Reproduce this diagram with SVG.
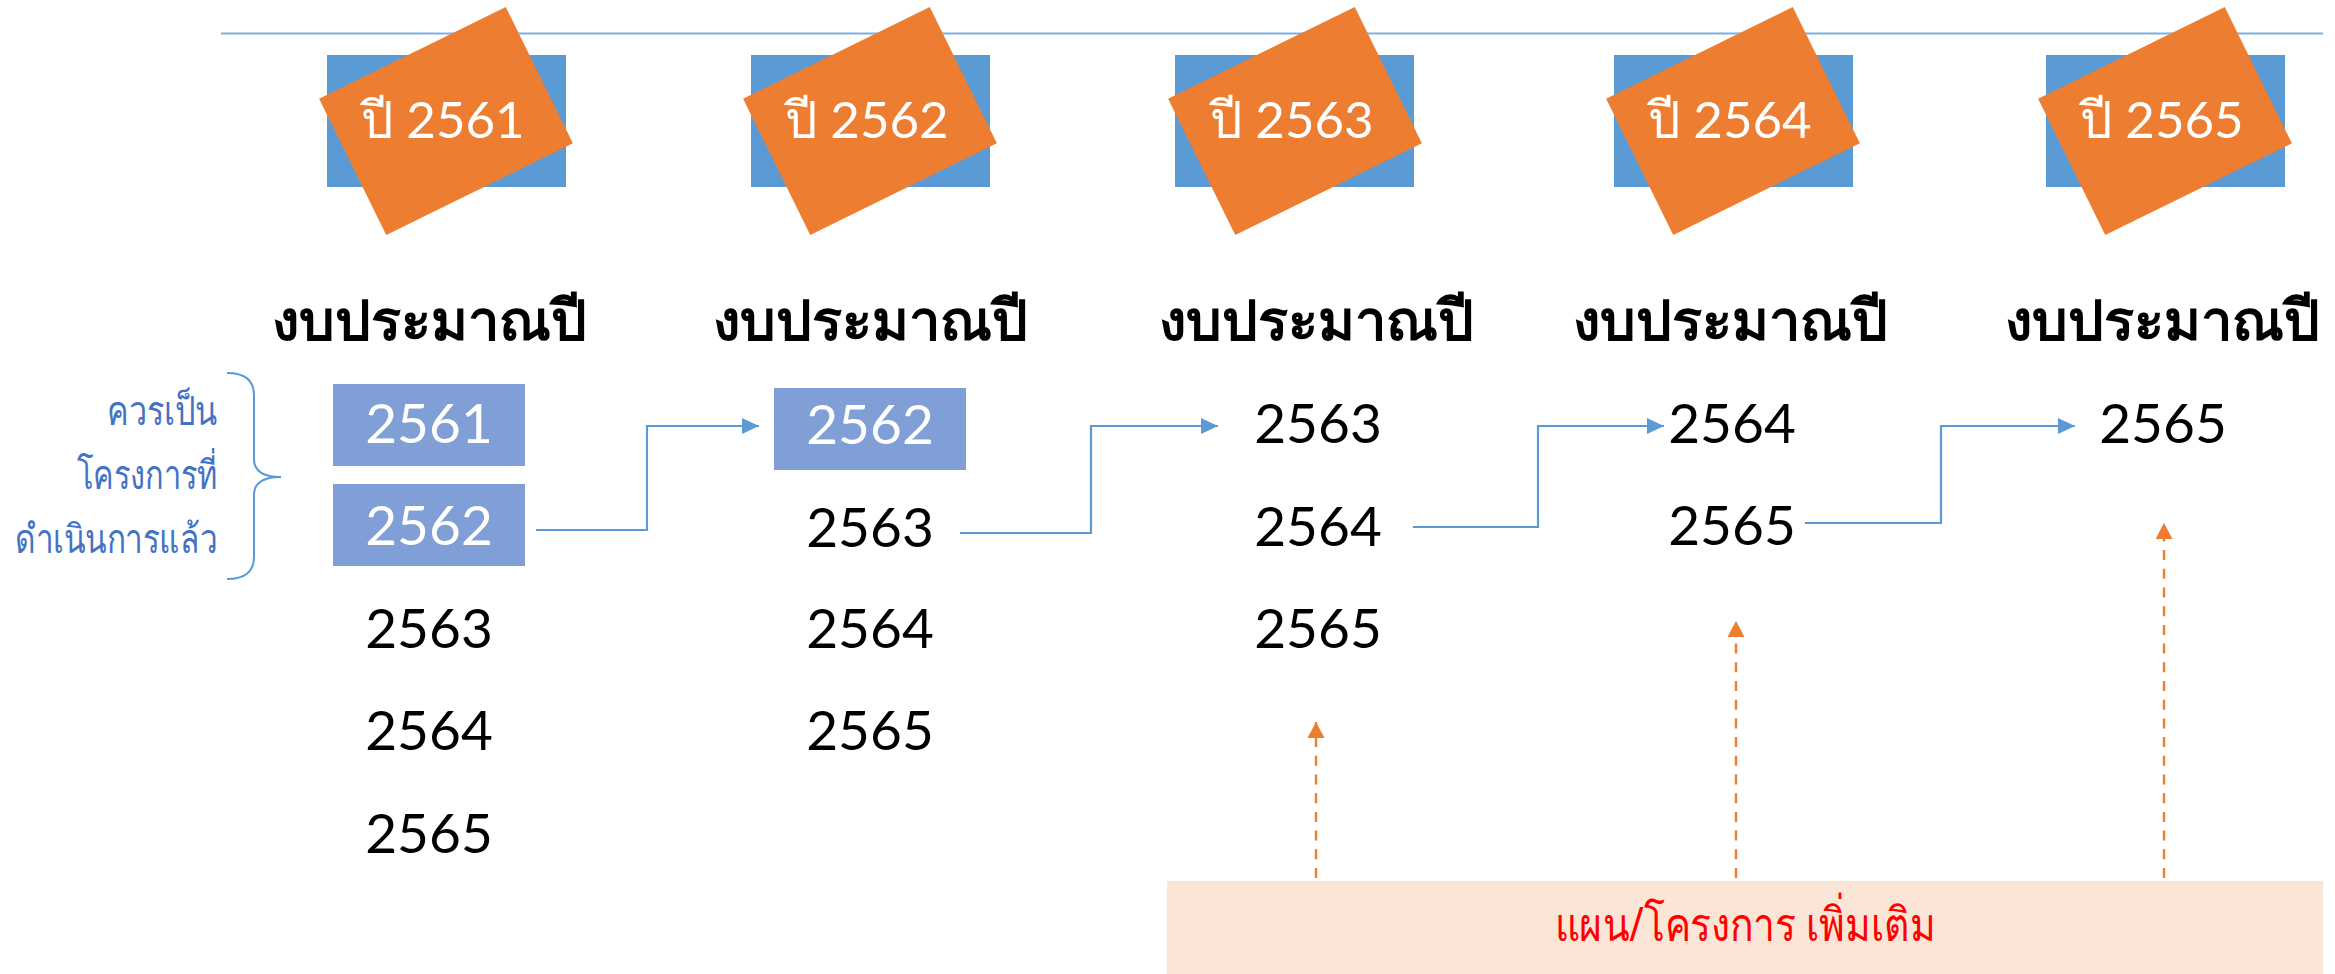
<svg xmlns="http://www.w3.org/2000/svg" width="2335" height="974" viewBox="0 0 2335 974">
  <defs>
    <style>
      .hdr{fill:#5B9BD5}
      .tag{fill:#ED7D31}
      .tagtxt{font-family:"Lato","Noto Sans",sans-serif;font-size:51px;fill:#FFFFFF;text-anchor:middle}
      .head{font-family:"Noto Sans","Lato",sans-serif;font-size:56px;font-weight:bold;fill:#000000;text-anchor:middle}
      .num{font-family:"Lato","Noto Sans",sans-serif;font-size:55px;fill:#000000;text-anchor:middle}
      .numw{font-family:"Lato","Noto Sans",sans-serif;font-size:55px;fill:#FFFFFF;text-anchor:middle}
      .done{fill:#7F9FD6}
      .note{font-family:"Noto Sans","Lato",sans-serif;font-size:40px;fill:#4472C4;text-anchor:end}
      .conn{fill:none;stroke:#5B9BD5;stroke-width:2.2}
      .dash{fill:none;stroke:#ED7D31;stroke-width:2.4;stroke-dasharray:10 8.7}
      .extra{font-family:"Noto Sans","Lato",sans-serif;font-size:47px;fill:#FF0000;text-anchor:middle}
    </style>
    <marker id="arrBlue" markerUnits="userSpaceOnUse" markerWidth="18" markerHeight="16" refX="17" refY="8" orient="auto">
      <path d="M0,0 L17,8 L0,16 Z" fill="#5B9BD5"/>
    </marker>
    <marker id="arrOrange" markerUnits="userSpaceOnUse" markerWidth="18" markerHeight="17" refX="16" refY="8.5" orient="auto">
      <path d="M0,0 L16,8.5 L0,17 Z" fill="#ED7D31"/>
    </marker>
  </defs>
  <rect width="2335" height="974" fill="#FFFFFF"/>

  <line x1="221" y1="33.5" x2="2323" y2="33.5" stroke="#7FAEE0" stroke-width="2"/>

  <g id="year-2561">
    <rect class="hdr" x="327" y="55" width="239" height="132"/>
    <rect class="tag" x="-104" y="-76" width="208" height="152" transform="translate(446,121) rotate(-26.2)"/>
    <text class="tagtxt" x="443" y="138">ปี 2561</text>
  </g>
  <g id="year-2562">
    <rect class="hdr" x="751" y="55" width="239" height="132"/>
    <rect class="tag" x="-104" y="-76" width="208" height="152" transform="translate(870,121) rotate(-26.2)"/>
    <text class="tagtxt" x="867" y="138">ปี 2562</text>
  </g>
  <g id="year-2563">
    <rect class="hdr" x="1175" y="55" width="239" height="132"/>
    <rect class="tag" x="-104" y="-76" width="208" height="152" transform="translate(1295,121) rotate(-26.2)"/>
    <text class="tagtxt" x="1292" y="138">ปี 2563</text>
  </g>
  <g id="year-2564">
    <rect class="hdr" x="1614" y="55" width="239" height="132"/>
    <rect class="tag" x="-104" y="-76" width="208" height="152" transform="translate(1733,121) rotate(-26.2)"/>
    <text class="tagtxt" x="1730" y="138">ปี 2564</text>
  </g>
  <g id="year-2565">
    <rect class="hdr" x="2046" y="55" width="239" height="132"/>
    <rect class="tag" x="-104" y="-76" width="208" height="152" transform="translate(2165,121) rotate(-26.2)"/>
    <text class="tagtxt" x="2162" y="138">ปี 2565</text>
  </g>

  <g id="budget-2561">
    <text class="head" x="429" y="340">งบประมาณปี</text>
    <rect class="done" x="333" y="384" width="192" height="82"/>
    <text class="numw" x="429" y="443">2561</text>
    <rect class="done" x="333" y="484" width="192" height="82"/>
    <text class="numw" x="429" y="545">2562</text>
    <text class="num" x="429" y="648">2563</text>
    <text class="num" x="429" y="750">2564</text>
    <text class="num" x="429" y="853">2565</text>
  </g>
  <g id="budget-2562">
    <text class="head" x="870" y="340">งบประมาณปี</text>
    <rect class="done" x="774" y="388" width="192" height="82"/>
    <text class="numw" x="870" y="444">2562</text>
    <text class="num" x="870" y="547">2563</text>
    <text class="num" x="870" y="648">2564</text>
    <text class="num" x="870" y="750">2565</text>
  </g>
  <g id="budget-2563">
    <text class="head" x="1316" y="340">งบประมาณปี</text>
    <text class="num" x="1318" y="443">2563</text>
    <text class="num" x="1318" y="546">2564</text>
    <text class="num" x="1318" y="648">2565</text>
  </g>
  <g id="budget-2564">
    <text class="head" x="1730" y="340">งบประมาณปี</text>
    <text class="num" x="1732" y="443">2564</text>
    <text class="num" x="1732" y="545">2565</text>
  </g>
  <g id="budget-2565">
    <text class="head" x="2162" y="340">งบประมาณปี</text>
    <text class="num" x="2163" y="443">2565</text>
  </g>

  <g id="note">
    <path d="M227,373 Q254,373 254,395 L254,459 Q254,477 281,477 Q254,477 254,495 L254,557 Q254,579 227,579" fill="none" stroke="#5B9BD5" stroke-width="2"/>
    <text class="note" x="217" y="425" textLength="110" lengthAdjust="spacingAndGlyphs">ควรเป็น</text>
    <text class="note" x="217" y="489" textLength="140" lengthAdjust="spacingAndGlyphs">โครงการที่</text>
    <text class="note" x="217" y="553" textLength="202" lengthAdjust="spacingAndGlyphs">ดำเนินการแล้ว</text>
  </g>

  <g id="extra-plans">
    <rect x="1167" y="881" width="1156" height="93" fill="#FBE5D6"/>
    <text class="extra" x="1745" y="941" textLength="381" lengthAdjust="spacingAndGlyphs">แผน/โครงการ เพิ่มเติม</text>
  </g>

  <g id="connectors">
    <path class="conn" d="M536,530 H647 V426 H759" marker-end="url(#arrBlue)"/>
    <path class="conn" d="M960,533 H1091 V426 H1218" marker-end="url(#arrBlue)"/>
    <path class="conn" d="M1413,527 H1538 V426 H1664" marker-end="url(#arrBlue)"/>
    <path class="conn" d="M1805,523 H1941 V426 H2075" marker-end="url(#arrBlue)"/>
    <path class="dash" d="M1316,878 V722" marker-end="url(#arrOrange)"/>
    <path class="dash" d="M1736,878 V621" marker-end="url(#arrOrange)"/>
    <path class="dash" d="M2164,878 V523" marker-end="url(#arrOrange)"/>
  </g>
</svg>
